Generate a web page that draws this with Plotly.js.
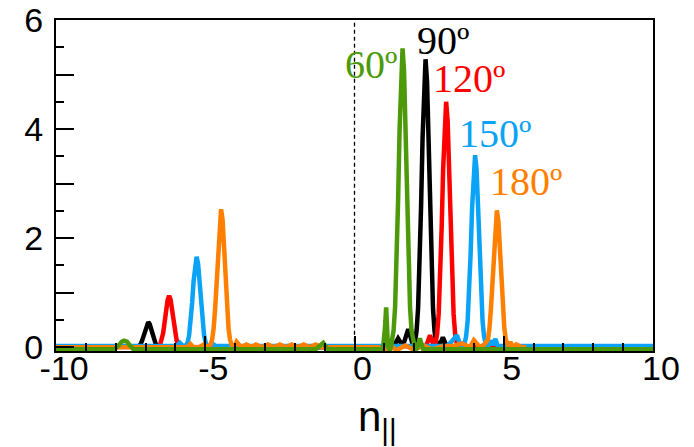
<!DOCTYPE html>
<html>
<head>
<meta charset="utf-8">
<script src="https://cdn.plot.ly/plotly-3.0.1.min.js"></script>
<style>html,body{margin:0;padding:0;background:#fff;}#chart{width:694px;height:447px;}</style>
</head>
<body>
<div id="chart"></div>
<script>
// ---- data ----
const seriesNames = ["90º", "120º", "150º", "180º", "60º"];

const x90 = [-10, -7.4, -7.26, -7.21, -7.16, -7.11, -7.06, -7.01, -6.96, -6.91, -6.86, -6.81, -6.76, -6.71, -6.66, -6.61, -6.56, -6.45,
  0.9, 1.3, 1.46, 1.62, 1.8, 1.95,
  2.03, 2.08, 2.13, 2.18, 2.23, 2.28, 2.33, 2.38, 2.43, 2.48, 2.53, 2.58, 2.63, 2.68, 2.73, 2.84, 2.96, 3.1, 3.5, 10];
const y90 = [0, 0, 0.01, 0.03, 0.06, 0.13, 0.22, 0.33, 0.42, 0.46, 0.42, 0.33, 0.22, 0.13, 0.06, 0.03, 0.01, 0,
  0, 0, 0.16, 0.02, 0.33, 0.05,
  0.11, 0.30, 0.71, 1.47, 2.57, 3.83, 4.87, 5.28, 4.87, 3.83, 2.57, 1.47, 0.71, 0.30, 0.11, 0.02, 0.18, 0, 0, 0];

const x120 = [-10, -6.7, -6.56, -6.51, -6.46, -6.41, -6.36, -6.31, -6.26, -6.21, -6.16, -6.11, -6.06, -6.01, -5.96, -5.91, -5.86, -5.75,
  2.2, 2.4, 2.53, 2.65,
  2.72, 2.77, 2.82, 2.87, 2.92, 2.97, 3.02, 3.07, 3.12, 3.17, 3.22, 3.27, 3.32, 3.37, 3.42, 3.5, 3.6, 3.7, 10];
const y120 = [0, 0, 0.02, 0.05, 0.13, 0.26, 0.46, 0.68, 0.87, 0.94, 0.87, 0.68, 0.46, 0.26, 0.13, 0.05, 0.02, 0,
  0, 0.02, 0.22, 0.03,
  0.09, 0.25, 0.61, 1.25, 2.19, 3.27, 4.15, 4.50, 4.15, 3.27, 2.19, 1.25, 0.61, 0.25, 0.09, 0.03, 0.06, 0, 0];

const x150 = [-10, -5.95, -5.85, -5.75,
  -5.64, -5.59, -5.54, -5.49, -5.44, -5.39, -5.34, -5.29, -5.24, -5.19, -5.14, -5.09, -5.04, -4.99, -4.94,
  -4.85, -4.75, -4.65,
  3.1, 3.25, 3.43, 3.55, 3.62,
  3.69, 3.74, 3.79, 3.84, 3.89, 3.94, 3.99, 4.04, 4.09, 4.14, 4.19, 4.24, 4.29, 4.34, 4.39,
  4.47, 4.55, 4.63, 4.72, 4.8, 10];
const y150 = [0.02, 0.02, 0.08, 0.02,
  0.03, 0.09, 0.22, 0.46, 0.81, 1.21, 1.53, 1.66, 1.53, 1.21, 0.81, 0.46, 0.22, 0.09, 0.03,
  0.02, 0.06, 0.02,
  0.02, 0.10, 0.22, 0.04, 0.03,
  0.07, 0.20, 0.48, 0.98, 1.71, 2.56, 3.25, 3.52, 3.25, 2.56, 1.71, 0.98, 0.48, 0.20, 0.07,
  0.02, 0.12, 0.04, 0.15, 0.02, 0.02];

const x180 = [-10, -5.6, -5.5, -5.4, -5.2, -5.05, -4.92,
  -4.82, -4.77, -4.72, -4.67, -4.62, -4.57, -4.52, -4.47, -4.42, -4.37, -4.32, -4.27, -4.22, -4.17, -4.12,
  -4.03, -3.95, -3.8, -3.62, -3.45, -3.3, -3.1, -2.9, -2.7, -2.5, -2.3, -2.1, -1.9, -1.7, -1.5, -1.3, -1.1,
  0.8, 1.0, 1.2, 1.4, 1.7, 2.0, 2.3, 2.6, 3.0, 3.3, 3.6, 3.87, 4.0, 4.2, 4.35,
  4.47, 4.52, 4.57, 4.62, 4.67, 4.72, 4.77, 4.82, 4.87, 4.92, 4.97, 5.02, 5.07, 5.12, 5.17,
  5.22, 5.3, 5.42, 5.6, 5.75, 10];
const y180 = [0, 0, 0.06, 0, 0, 0.05, 0,
  0.05, 0.14, 0.34, 0.70, 1.23, 1.84, 2.34, 2.53, 2.34, 1.84, 1.23, 0.70, 0.34, 0.14, 0.05,
  0, 0.10, 0, 0.05, 0, 0.05, 0, 0.05, 0, 0.05, 0, 0.05, 0, 0.05, 0, 0.05, 0,
  0, -0.06, 0.04, -0.06, 0.03, -0.05, 0.03, -0.04, 0.02, 0.02, 0.07, 0, 0.13, 0,
  0.05, 0.14, 0.34, 0.70, 1.22, 1.82, 2.32, 2.51, 2.32, 1.82, 1.22, 0.70, 0.34, 0.14, 0.05,
  0, 0.10, 0, 0.05, 0, 0];

const x60 = [-10, -8.05, -7.9, -7.8, -7.72, -7.62, -7.52, -7.4, -1.3, -1.05, -0.9,
  0.95, 1.02, 1.06, 1.12, 1.18, 1.22,
  1.26, 1.31, 1.36, 1.41, 1.46, 1.51, 1.56, 1.61, 1.66, 1.71, 1.76, 1.81, 1.86, 1.91, 1.96,
  2.03, 2.1, 2.19, 2.3, 2.45, 10];
const y60 = [-0.04, -0.04, 0.03, 0.10, 0.12, 0.10, 0.03, -0.04, -0.04, 0.08, -0.04,
  -0.04, 0.35, 0.73, 0.02, -0.06, 0,
  0.11, 0.31, 0.74, 1.52, 2.67, 3.98, 5.06, 5.48, 5.06, 3.98, 2.67, 1.52, 0.74, 0.31, 0.11,
  -0.04, -0.02, 0.16, -0.04, -0.04, -0.04];

// label positions (data coords) for the angle labels
const labelX = [2.95, 3.82, 4.71, 5.76, 0.55];
const labelY = [5.62, 4.92, 3.92, 3.04, 5.19];

const yLabelVals = [0, 2, 4, 6];
const yLabelText = ["0", "2", "4", "6"];
const yOddVals = [1, 3, 5];
const xTickVals = [-10, -5, 0, 5, 10];
const xTickText = ["-10", "-5", "0", "5", "10"];

// ---- styling ----
const colors = ["#000000", "#FF0000", "#0AA3F5", "#FF8000", "#4C9A0A"];
const xs = [x90, x120, x150, x180, x60];
const ys = [y90, y120, y150, y180, y60];

const traces = xs.map((xv, i) => ({
  type: "scatter", mode: "lines", x: xv, y: ys[i], name: seriesNames[i],
  line: {color: colors[i], width: 4.5}, hoverinfo: "skip"
}));
// helper (empty) trace so the overlay axis carrying the long ticks at 1, 3, 5 is drawn
traces.push({type: "scatter", mode: "lines", x: [], y: [], yaxis: "y2", showlegend: false, hoverinfo: "skip"});

const annotations = seriesNames.map((t, i) => ({
  x: labelX[i], y: labelY[i], xref: "x", yref: "y", text: t, showarrow: false,
  font: {family: "Liberation Serif, Times New Roman, serif", size: 40, color: colors[i]},
  xanchor: "center", yanchor: "middle"
}));
annotations.push({
  x: 0.538, y: -0.12, xref: "paper", yref: "paper", showarrow: false,
  text: "n<sub>||</sub>", xanchor: "center", yanchor: "top",
  font: {family: "Liberation Sans, Arial, sans-serif", size: 42, color: "#000"}
});

const axisFont = {family: "Liberation Sans, Arial, sans-serif", size: 34, color: "#000"};
const yRange = [-0.07, 6];

const layout = {
  width: 694, height: 447,
  margin: {l: 56, r: 41, t: 20, b: 96},
  paper_bgcolor: "#fff", plot_bgcolor: "#fff",
  showlegend: false,
  xaxis: {
    range: [-10, 10], tickmode: "array", tickvals: xTickVals, ticktext: xTickText,
    ticks: "inside", ticklen: 15, tickwidth: 2, tickcolor: "#000",
    minor: {dtick: 1, tick0: 0, ticks: "inside", ticklen: 8, tickwidth: 2, tickcolor: "#000", showgrid: false},
    showline: true, linecolor: "#000", linewidth: 2, mirror: true,
    showgrid: false, zeroline: false, tickfont: axisFont, ticklabelshift: 8, ticklabelstandoff: -14
  },
  yaxis: {
    range: yRange, tickmode: "array", tickvals: yLabelVals, ticktext: yLabelText,
    ticks: "inside", ticklen: 18, tickwidth: 2, tickcolor: "#000",
    minor: {dtick: 0.5, tick0: 0, ticks: "inside", ticklen: 8, tickwidth: 2, tickcolor: "#000", showgrid: false},
    showline: true, linecolor: "#000", linewidth: 2, mirror: true,
    showgrid: false, zeroline: false, tickfont: axisFont, ticklabelstandoff: 4
  },
  yaxis2: {
    range: yRange, overlaying: "y", side: "left", tickmode: "array", tickvals: yOddVals,
    ticks: "inside", ticklen: 18, tickwidth: 2, tickcolor: "#000",
    showticklabels: false, showline: false, showgrid: false, zeroline: false
  },
  shapes: [{
    type: "line", xref: "x", yref: "y", x0: 0, x1: 0, y0: 0.1, y1: 6,
    line: {color: "#000", width: 1.3, dash: "4px,3px"}
  }],
  annotations: annotations
};

Plotly.newPlot("chart", traces, layout, {staticPlot: true, displayModeBar: false});
</script>
</body>
</html>
